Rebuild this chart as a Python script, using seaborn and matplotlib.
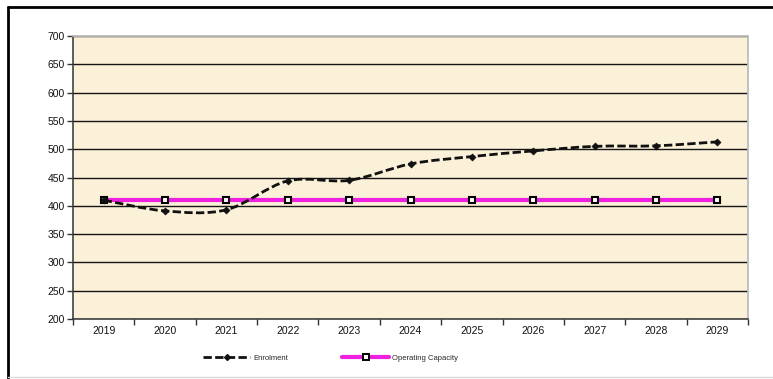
import numpy as np
import pandas as pd
import matplotlib
matplotlib.use("Agg")
import matplotlib.pyplot as plt
import seaborn as sns
from matplotlib.path import Path
from matplotlib.patches import PathPatch
from matplotlib.lines import Line2D

# ============================================================
# Data
# ============================================================

years = ["2019", "2020", "2021", "2022", "2023", "2024",
         "2025", "2026", "2027", "2028", "2029"]
enrolment = [410, 391, 393, 444, 445, 474, 487, 497, 505, 506, 513]
capacity = [410, 410, 410, 410, 410, 410, 410, 410, 410, 410, 410]

df = pd.DataFrame({"pos": np.arange(len(years)),
                   "Enrolment": enrolment,
                   "Operating Capacity": capacity})

# ============================================================
# Style
# ============================================================

sns.set_theme(style="white")
plt.rcParams["font.family"] = ["Liberation Sans", "DejaVu Sans"]

DASH = (0, (3.0, 1.2))

fig = plt.figure(figsize=(7.73, 3.79), dpi=100)
fig.patch.set_facecolor("white")
ax = fig.add_axes([0.0944, 0.1583, 0.8733, 0.7467])
ax.set_facecolor("#FBF0D8")

# gridlines
ax.set_ylim(200, 700)
ax.set_yticks(np.arange(200, 701, 50))
ax.yaxis.grid(True, color="#151515", linewidth=1.0)
ax.set_axisbelow(True)

# ============================================================
# Operating capacity (magenta, square markers)
# ============================================================

sns.lineplot(data=df, x="pos", y="Operating Capacity", ax=ax,
             color="#F020E0", linewidth=3.0, marker="s", markersize=5,
             markerfacecolor="white", markeredgecolor="black",
             markeredgewidth=1.5, zorder=3)

# ============================================================
# Enrolment (smoothed black dashed line)
# ============================================================

pts = np.column_stack([df["pos"].values, df["Enrolment"].values]).astype(float)
ext = np.vstack([pts[0], pts, pts[-1]])
verts = [tuple(pts[0])]
codes = [Path.MOVETO]
for i in range(len(pts) - 1):
    p0, p1, p2, p3 = ext[i], ext[i + 1], ext[i + 2], ext[i + 3]
    c1 = p1 + (p2 - p0) / 6.0
    c2 = p2 - (p3 - p1) / 6.0
    verts += [tuple(c1), tuple(c2), tuple(p2)]
    codes += [Path.CURVE4] * 3
ax.add_patch(PathPatch(Path(verts, codes), facecolor="none",
                       edgecolor="#111111", linewidth=2.0,
                       linestyle=DASH, zorder=4))
sns.scatterplot(data=df, x="pos", y="Enrolment", ax=ax, marker="D",
                s=14, color="#111111", edgecolor="#111111", zorder=5)

# ============================================================
# Axes
# ============================================================

ax.set_xlim(-0.5, len(years) - 0.5)
ax.set_xticks(df["pos"])
ax.set_xticklabels(years)
ax.set_xticks(np.arange(-0.5, len(years)), minor=True)
ax.tick_params(axis="x", which="major", length=0, labelsize=7.5, pad=5,
               labelcolor="#111111")
ax.tick_params(axis="x", which="minor", length=4, width=1, color="#333333",
               direction="out", bottom=True)
ax.tick_params(axis="y", length=4, width=1, color="#333333", direction="out",
               left=True, labelsize=7.5, labelcolor="#111111", pad=2)
ax.set_xlabel("")
ax.set_ylabel("")

for side in ["left", "bottom"]:
    ax.spines[side].set_color("#333333")
    ax.spines[side].set_linewidth(1.1)
for side in ["top", "right"]:
    ax.spines[side].set_color("#BDBDBD")
    ax.spines[side].set_linewidth(1.3)

if ax.get_legend() is not None:
    ax.get_legend().remove()

# ============================================================
# Legend below
# ============================================================

h_enrol = Line2D([0], [0], color="#111111", linewidth=2.0, linestyle=DASH,
                 marker="D", markersize=3)
h_cap = Line2D([0], [0], color="#F020E0", linewidth=3.0, marker="s",
               markersize=4.5, markerfacecolor="white",
               markeredgecolor="black", markeredgewidth=1.4)
leg_kw = dict(loc="center left", frameon=False, fontsize=5.5,
              handlelength=6.2, handletextpad=0.4, borderpad=0,
              borderaxespad=0)
fig.legend([h_enrol], ["Enrolment"],
           bbox_to_anchor=(203 / 773, 1 - 358 / 379), **leg_kw)
fig.legend([h_cap], ["Operating Capacity"],
           bbox_to_anchor=(342 / 773, 1 - 358 / 379), **leg_kw)

# ============================================================
# Outer frame
# ============================================================

fig.add_artist(Line2D([8 / 773, 8 / 773], [0.003, 1 - 7 / 379],
                      transform=fig.transFigure, color="black", linewidth=2))
fig.add_artist(Line2D([8 / 773, 1.0], [1 - 7 / 379, 1 - 7 / 379],
                      transform=fig.transFigure, color="black", linewidth=2))
fig.add_artist(Line2D([8 / 773, 1.0], [0.005, 0.005],
                      transform=fig.transFigure, color="#D8D8D8", linewidth=1))

fig.savefig("out.png", dpi=100)
